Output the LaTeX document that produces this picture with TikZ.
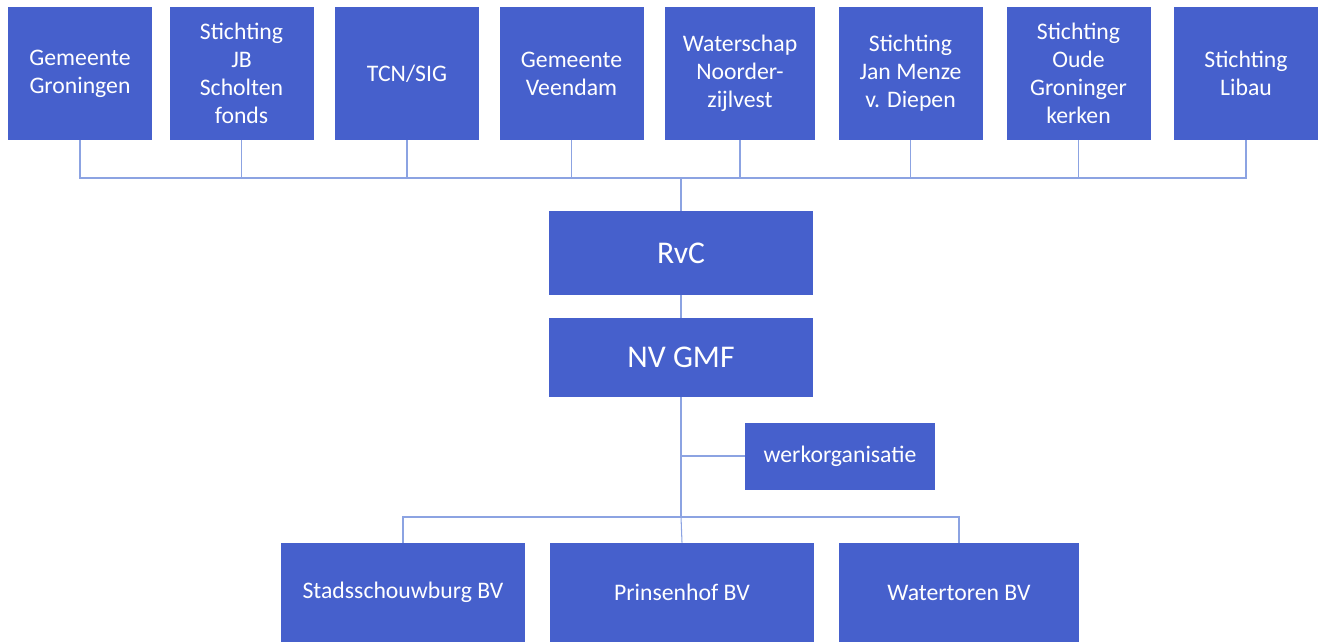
\documentclass[tikz,border=0pt]{standalone}
\usepackage{fontspec}
\setmainfont{Carlito}
\definecolor{boxblue}{RGB}{70,96,204}
\definecolor{lineblue}{RGB}{140,163,226}
\tikzset{
  orgbox/.style={fill=boxblue, text=white, align=center, inner sep=2pt, font=\fontsize{13.5}{16}\selectfont},
  conn/.style={draw=lineblue, line width=0.6pt}
}
\begin{document}
\begin{tikzpicture}
\useasboundingbox (0,0) rectangle (26.5,-12.86);
% Define shareholders
\node[orgbox, minimum width=2.88cm, minimum height=2.66cm] (t1) at (1.60,-1.47) {Gemeente\\Groningen};
\node[orgbox, minimum width=2.88cm, minimum height=2.66cm] (t2) at (4.83,-1.47) {Stichting\\JB\\Scholten\\fonds};
\node[orgbox, minimum width=2.88cm, minimum height=2.66cm] (t3) at (8.14,-1.47) {TCN/SIG};
\node[orgbox, minimum width=2.88cm, minimum height=2.66cm] (t4) at (11.43,-1.47) {Gemeente\\Veendam};
\node[orgbox, minimum width=3.00cm, minimum height=2.66cm] (t5) at (14.80,-1.47) {Waterschap\\Noorder-\\zijlvest};
\node[orgbox, minimum width=2.88cm, minimum height=2.66cm] (t6) at (18.21,-1.47) {Stichting\\Jan Menze\\v. Diepen};
\node[orgbox, minimum width=2.88cm, minimum height=2.66cm] (t7) at (21.57,-1.47) {Stichting\\Oude\\Groninger\\kerken};
\node[orgbox, minimum width=2.88cm, minimum height=2.66cm] (t8) at (24.92,-1.47) {Stichting\\Libau};
% Define board and company
\node[orgbox, minimum width=5.28cm, minimum height=1.68cm, font=\fontsize{18}{21}\selectfont] (rvc) at (13.62,-5.06) {RvC};
\node[orgbox, minimum width=5.28cm, minimum height=1.58cm, font=\fontsize{18}{21}\selectfont] (nv) at (13.62,-7.15) {NV GMF};
\node[orgbox, minimum width=3.80cm, minimum height=1.34cm] (werk) at (16.80,-9.12) {werkorganisatie};
% Define subsidiaries
\node[orgbox, minimum width=4.88cm, minimum height=1.98cm] (stad) at (8.06,-11.85) {Stadsschouwburg BV};
\node[orgbox, minimum width=5.28cm, minimum height=1.98cm] (prins) at (13.64,-11.85) {Prinsenhof BV};
\node[orgbox, minimum width=4.80cm, minimum height=1.98cm] (water) at (19.18,-11.85) {Watertoren BV};
% Define connectors
\coordinate (bus) at (13.62,-3.56);
\coordinate (split) at (13.62,-10.34);
\foreach \i in {1,...,8} {\draw[conn] (t\i.south) |- (bus);}
\draw[conn] (bus) -- (rvc.north);
\draw[conn] (rvc.south) -- (nv.north);
\draw[conn] (nv.south) -- (split);
\draw[conn] (werk.west) -- (werk.west -| nv.south);
\draw[conn] (split) -| (stad.north);
\draw[conn] (split) -- (prins.north);
\draw[conn] (split) -| (water.north);
\end{tikzpicture}
\end{document}
